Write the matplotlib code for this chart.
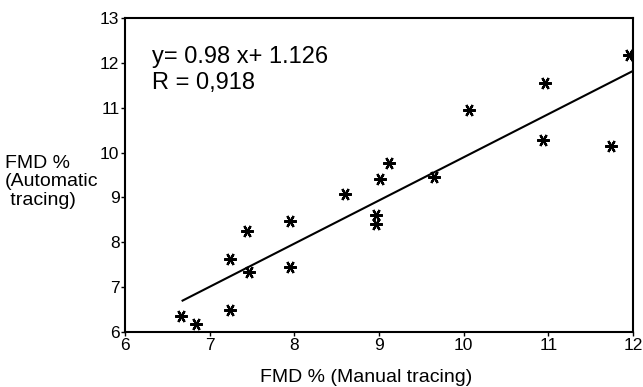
import matplotlib.pyplot as plt

plt.rcParams['font.family'] = ['Liberation Sans', 'DejaVu Sans']

# 数据：手动描记 vs 自动描记 FMD %
manual = [6.66, 6.84, 7.24, 7.24, 7.44, 7.46, 7.95, 7.95, 8.60, 8.96,
          8.96, 9.01, 9.12, 9.65, 10.06, 10.96, 10.94, 11.74, 11.95]
auto = [6.36, 6.18, 6.50, 7.63, 8.26, 7.34, 8.48, 7.45, 9.08, 8.60,
        8.40, 9.41, 9.77, 9.45, 10.95, 11.55, 10.28, 10.15, 12.18]

# 回归线端点
line_x = [6.68, 12.0]
line_y = [6.70, 11.82]

x_ticks = [6, 7, 8, 9, 10, 11, 12]
y_ticks = [6, 7, 8, 9, 10, 11, 12, 13]

fig = plt.figure(figsize=(6.43, 3.87), dpi=100)
ax = fig.add_axes([125 / 643, 1 - 332 / 387, (633 - 125) / 643, (332 - 18) / 387])

ax.plot(line_x, line_y, color='black', lw=1.5)
ax.plot(manual, auto, linestyle='none', marker=(6, 2, 90), markersize=9,
        markeredgewidth=1.6, color='black')

ax.set_xlim(6, 12)
ax.set_ylim(6, 13)
ax.set_xticks(x_ticks)
ax.set_yticks(y_ticks)
ax.tick_params(direction='out', length=3, width=1, labelsize=12.5, pad=1)
for s in ax.spines.values():
    s.set_linewidth(1.5)

ax.text(0.053, 0.91, 'y= 0.98 x+ 1.126\nR = 0,918', transform=ax.transAxes,
        fontsize=17, va='top', ha='left', linespacing=1.2)

fig.text(366 / 643, 1 - 377 / 387, 'FMD % (Manual tracing)', fontsize=14,
         ha='center', va='center')
fig.text(5 / 643, 1 - 182 / 387, 'FMD %\n(Automatic\n tracing)', fontsize=14,
         ha='left', va='center', linespacing=1.15)

fig.savefig('out.png', dpi=100)
